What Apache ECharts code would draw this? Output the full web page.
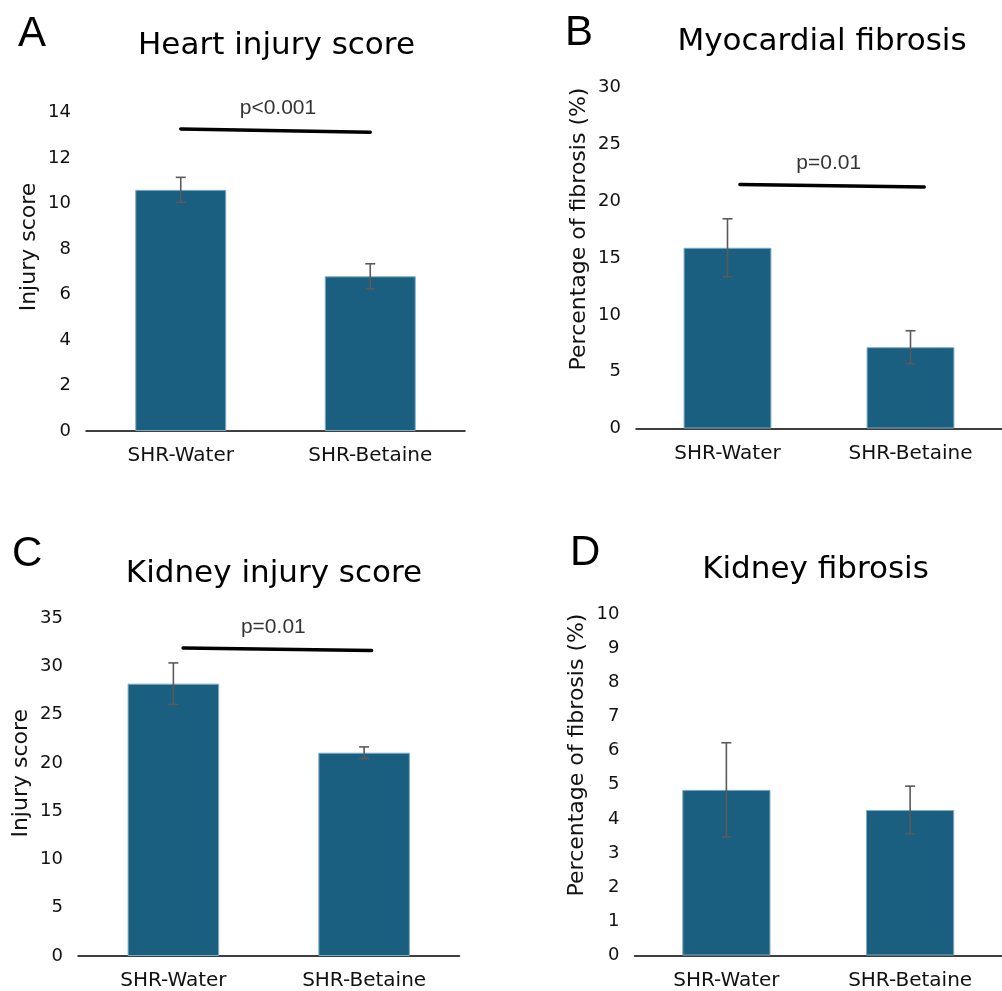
<!DOCTYPE html>
<html><head><meta charset="utf-8">
<script src="https://cdn.jsdelivr.net/npm/echarts@6/dist/echarts.min.js"></script>
<style>html,body{margin:0;padding:0;background:#fff}#c{width:1002px;height:991px}</style>
</head><body><div id="c"></div>
<script>
// ---- data ----
const categories = ['SHR-Water', 'SHR-Betaine'];
const panelTitles = ['Heart injury score', 'Myocardial fibrosis', 'Kidney injury score', 'Kidney fibrosis'];
const panelLetters = ['A', 'B', 'C', 'D'];
const yAxisNames = ['Injury score', 'Percentage of fibrosis (%)', 'Injury score', 'Percentage of fibrosis (%)'];
const yMax = [14, 30, 35, 10];
const yInterval = [2, 5, 5, 1];
const heartScore = [10.6, 6.8];
const heartErr = [0.55, 0.55];
const myoFibrosis = [15.9, 7.15];
const myoErr = [2.55, 1.45];
const kidneyScore = [28.2, 21.05];
const kidneyErr = [2.15, 0.6];
const kidneyFibrosis = [4.85, 4.26];
const kidneyFibErr = [1.38, 0.7];
const sigLabels = ['p<0.001', 'p=0.01', 'p=0.01', null];
const sigLines = [[[0.5, 13.28], [1.5, 13.13]], [[0.568, 21.47], [1.575, 21.24]], [[0.551, 31.9], [1.539, 31.64]], null];
const sigLabelPos = [[1.013, 14.18], [1.053, 23.3], [1.024, 34.09], null];

const means = [heartScore, myoFibrosis, kidneyScore, kidneyFibrosis];
const errs = [heartErr, myoErr, kidneyErr, kidneyFibErr];

// ---- layout ----
const grids = [
  {left: 86, top: 112.5, width: 379, height: 318.5},
  {left: 636, top: 87.5, width: 375, height: 341},
  {left: 78, top: 618, width: 381.5, height: 339.5},
  {left: 634.5, top: 614, width: 375, height: 341.5}
];
const namePad = [49.5, 58, 27.5, 59.5];
const titlePos = [[271.5, 25], [817, 21], [269, 553], [810.5, 549]];
const letterPos = [[13, 8.5], [560, 7], [7, 528.5], [565, 527.5]];

const FONT = 'DejaVu Sans';
const BAR = '#1a5e80';
const ERR = '#5a5a5a';

const titles = [];
panelTitles.forEach((t, i) => {
  titles.push({text: t, left: titlePos[i][0], top: titlePos[i][1], textAlign: 'center',
    textStyle: {fontFamily: FONT, fontSize: 31, fontWeight: 'normal', color: '#000'}});
  titles.push({text: panelLetters[i], left: letterPos[i][0], top: letterPos[i][1],
    textStyle: {fontFamily: 'Liberation Sans', fontSize: 42, fontWeight: 'normal', color: '#000'}});
});

const xAxis = [], yAxis = [], series = [];
for (let i = 0; i < 4; i++) {
  xAxis.push({type: 'category', gridIndex: i, data: categories,
    axisLine: {lineStyle: {color: '#000', width: 1.5}}, axisTick: {show: false},
    axisLabel: {fontFamily: FONT, fontSize: 20, color: '#111', margin: 15}});
  yAxis.push({type: 'value', gridIndex: i, min: 0, max: yMax[i], interval: yInterval[i],
    name: yAxisNames[i], nameLocation: 'middle', nameGap: 46,
    nameTextStyle: {fontFamily: FONT, fontSize: 22, color: '#111', padding: [0, 0, 0, namePad[i]]},
    axisLine: {show: false}, axisTick: {show: false}, splitLine: {show: false},
    axisLabel: {fontFamily: FONT, fontSize: 18, color: '#111', margin: 15}});
}
for (let i = 0; i < 4; i++) {
  xAxis.push({type: 'value', gridIndex: i, min: 0, max: 2, show: false});
}
for (let i = 0; i < 4; i++) {
  series.push({type: 'bar', xAxisIndex: i, yAxisIndex: i, data: means[i], barWidth: '48%',
    itemStyle: {color: BAR, borderColor: '#7aaec5', borderWidth: 1}, silent: true});
  series.push({type: 'custom', xAxisIndex: i, yAxisIndex: i, silent: true, z: 5,
    data: means[i].map((m, k) => [k, m - errs[i][k], m + errs[i][k]]),
    encode: {x: 0, y: [1, 2]},
    renderItem: function (params, api) {
      const x = api.value(0);
      const top = api.coord([x, api.value(2)]);
      const bot = api.coord([x, api.value(1)]);
      const hw = 5;
      const st = {stroke: ERR, lineWidth: 1.6};
      return {type: 'group', children: [
        {type: 'line', shape: {x1: top[0], y1: top[1], x2: bot[0], y2: bot[1]}, style: st},
        {type: 'line', shape: {x1: top[0] - hw, y1: top[1], x2: top[0] + hw, y2: top[1]}, style: st},
        {type: 'line', shape: {x1: bot[0] - hw, y1: bot[1], x2: bot[0] + hw, y2: bot[1]}, style: st}
      ]};
    }});
  if (sigLines[i]) {
    series.push({type: 'line', xAxisIndex: 4 + i, yAxisIndex: i, data: sigLines[i], symbol: 'none',
      silent: true, clip: false, lineStyle: {color: '#000', width: 3.5, cap: 'round'}});
    series.push({type: 'scatter', xAxisIndex: 4 + i, yAxisIndex: i, data: [sigLabelPos[i]],
      symbolSize: 0.1, silent: true, clip: false,
      label: {show: true, position: 'inside', formatter: sigLabels[i],
        fontFamily: 'Liberation Sans', fontSize: 21, color: '#000'}});
  }
}

const chart = echarts.init(document.getElementById('c'), null, {renderer: 'canvas'});
chart.setOption({
  animation: false,
  backgroundColor: '#fff',
  title: titles,
  grid: grids,
  xAxis: xAxis,
  yAxis: yAxis,
  series: series
});
</script>
</body></html>
